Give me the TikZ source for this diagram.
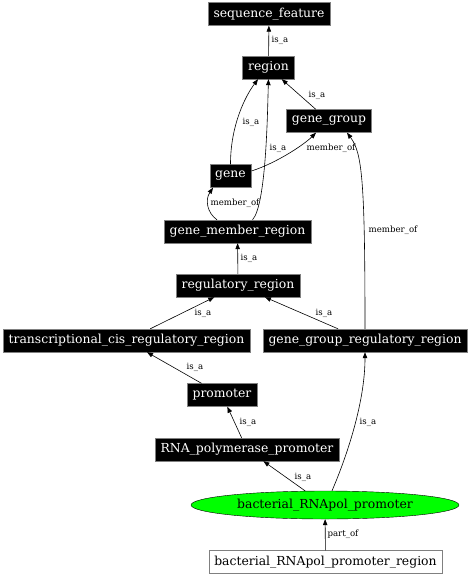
\documentclass[tikz,border=0pt]{standalone}
\usepackage{fontspec}
\setmainfont{DejaVu Serif}
\usetikzlibrary{arrows.meta,shapes.geometric}

\begin{document}
\begin{tikzpicture}[
    x=1pt, y=-1pt,
    term/.style={rectangle,draw=gray,fill=black,text=white,inner xsep=5.5pt,inner ysep=0pt,minimum height=23pt,font=\fontsize{12.4}{14}\selectfont},
    focus/.style={ellipse,draw=black,fill=green,minimum width=268pt,minimum height=28pt,inner sep=0pt,font=\fontsize{12.4}{14}\selectfont},
    plain/.style={rectangle,draw=gray,fill=white,inner xsep=5.5pt,inner ysep=0pt,minimum height=23pt,font=\fontsize{12.4}{14}\selectfont},
    rel/.style={draw=black,line width=0.6pt,-{Triangle[length=6pt,width=4.5pt]}},
    lbl/.style={font=\fontsize{8.6}{10}\selectfont,inner sep=0pt}
]
    \useasboundingbox (0,0) rectangle (470,576);

    % Terms
    \node[term] (sequence_feature) at (269,14) {sequence\_feature};
    \node[term] (region) at (268.5,67.5) {region};
    \node[term] (gene_group) at (329,121) {gene\_group};
    \node[term] (gene) at (230.5,176) {gene};
    \node[term] (gene_member_region) at (237.5,231.5) {gene\_member\_region};
    \node[term] (regulatory_region) at (238,285.5) {regulatory\_region};
    \node[term] (tcr_region) at (126.5,340.5) {transcriptional\_cis\_regulatory\_region};
    \node[term] (ggr_region) at (365,340.5) {gene\_group\_regulatory\_region};
    \node[term] (promoter) at (222,395) {promoter};
    \node[term] (rnap_promoter) at (247,449.5) {RNA\_polymerase\_promoter};
    \node[focus] (bact_promoter) at (325,505) {bacterial\_RNApol\_promoter};
    \node[plain] (bact_region) at (325.5,562) {bacterial\_RNApol\_promoter\_region};

    % Relations
    \draw[rel] (region) -- (sequence_feature);
    \draw[rel] (gene_group) -- (region);
    \draw[rel] (gene.north) .. controls +(0,-40) and +(-12,16) .. ([xshift=-10.5pt]region.south);
    \draw[rel] ([xshift=15pt]gene_member_region.north) .. controls +(14,-15) and +(-1,30) .. (region.south);
    \draw[rel] ([yshift=5pt]gene.east) .. controls +(25,-8) and +(-12,12) .. ([xshift=-13pt]gene_group.south);
    \draw[rel] ([xshift=-20.5pt]gene_member_region.north) .. controls +(-10,-7) and +(-8,12) .. ([xshift=-17.5pt]gene.south);
    \draw[rel] (ggr_region.north) .. controls +(0,-150) and +(15,20) .. ([xshift=18pt]gene_group.south);
    \draw[rel] (regulatory_region) -- (gene_member_region);
    \draw[rel] (tcr_region) -- (regulatory_region);
    \draw[rel] (ggr_region) -- (regulatory_region);
    \draw[rel] (promoter) -- (tcr_region);
    \draw[rel] (rnap_promoter) -- (promoter);
    \draw[rel] (bact_promoter) -- (rnap_promoter);
    \draw[rel] ([xshift=7pt]bact_promoter.north) .. controls +(15,-35) and +(0,50) .. (ggr_region.south);
    \draw[rel] (bact_region) -- (bact_promoter);

    % Relation labels
    \node[lbl] (l_sf) at (280,40) {is\_a};
    \node[lbl] (l_gg) at (317,95) {is\_a};
    \node[lbl] (l_gene) at (251,122) {is\_a};
    \node[lbl] (l_gmr) at (278,148) {is\_a};
    \node[lbl] (l_gene_gg) at (331,148) {member\_of};
    \node[lbl] (l_gmr_gene) at (235,203) {member\_of};
    \node[lbl] (l_ggr_gg) at (393,230) {member\_of};
    \node[lbl] (l_reg) at (249,258) {is\_a};
    \node[lbl] (l_tcr) at (203,313) {is\_a};
    \node[lbl] (l_ggr) at (324,313) {is\_a};
    \node[lbl] (l_prom) at (195,367) {is\_a};
    \node[lbl] (l_rnap) at (248,422) {is\_a};
    \node[lbl] (l_bact_ggr) at (368,422) {is\_a};
    \node[lbl] (l_bact_rnap) at (303,477) {is\_a};
    \node[lbl] (l_part) at (343,534) {part\_of};
\end{tikzpicture}
\end{document}
